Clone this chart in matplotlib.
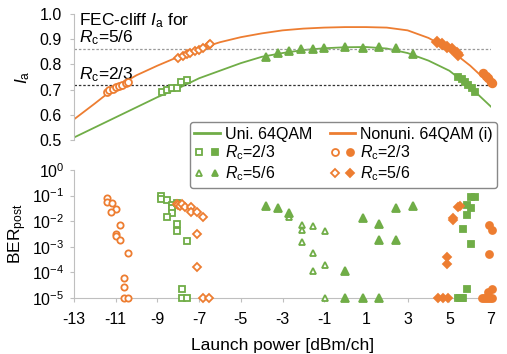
import numpy as np
import matplotlib
matplotlib.use("Agg")
import matplotlib.pyplot as plt
from matplotlib.lines import Line2D
from matplotlib.legend_handler import HandlerTuple

plt.rcParams["font.family"] = ["Liberation Sans", "DejaVu Sans"]
plt.rcParams["mathtext.fontset"] = "custom"
plt.rcParams["mathtext.rm"] = "Liberation Sans"
plt.rcParams["mathtext.it"] = "Liberation Sans:italic"
plt.rcParams["font.size"] = 11

GREEN = "#70AD47"
ORANGE = "#ED7D31"
GRAY = "#BFBFBF"

# --- кривые I_a ---
p_curve = [-13, -12, -11, -10, -9, -8, -7, -6, -5, -4, -3, -2, -1, 0, 1, 2, 3, 4, 5, 6, 7]
ia_uni = [0.51, 0.55, 0.59, 0.63, 0.67, 0.705, 0.745, 0.775, 0.805, 0.83, 0.845,
          0.857, 0.864, 0.868, 0.869, 0.863, 0.845, 0.815, 0.775, 0.71, 0.632]
ia_nonuni = [0.582, 0.645, 0.71, 0.757, 0.795, 0.83, 0.862, 0.888, 0.908, 0.923, 0.935,
             0.942, 0.946, 0.948, 0.948, 0.946, 0.935, 0.905, 0.86, 0.795, 0.718]

# --- точки I_a (верхняя панель) ---
top_u23o_p = [-8.8, -8.55, -8.3, -8.07, -7.85, -7.6]
top_u23o_ia = [0.692, 0.70, 0.708, 0.705, 0.73, 0.737]
top_u23f_p = [5.43, 5.59, 5.75, 5.91, 6.07, 6.23]
top_u23f_ia = [0.751, 0.741, 0.731, 0.718, 0.705, 0.692]
top_u56f_p = [-3.79, -3.23, -2.67, -2.11, -1.55, -0.99, 0.0, 0.85, 1.64, 2.44, 3.24]
top_u56f_ia = [0.831, 0.844, 0.854, 0.861, 0.861, 0.864, 0.868, 0.866, 0.868, 0.864, 0.84]
top_n23o_p = [-11.43, -11.3, -11.15, -11.0, -10.85, -10.7, -10.5, -10.4]
top_n23o_ia = [0.692, 0.697, 0.703, 0.71, 0.715, 0.72, 0.728, 0.732]
top_n23f_p = [6.63, 6.76, 6.87, 6.99, 7.03]
top_n23f_ia = [0.765, 0.754, 0.745, 0.731, 0.725]
top_n56o_p = [-8.0, -7.79, -7.6, -7.42, -7.2, -7.0, -6.8, -6.55, -6.48]
top_n56o_ia = [0.824, 0.833, 0.841, 0.846, 0.854, 0.859, 0.866, 0.876, 0.879]
top_n56f_p = [4.40, 4.64, 4.88, 5.12, 5.36, 5.43]
top_n56f_ia = [0.890, 0.881, 0.870, 0.860, 0.844, 0.837]

# --- BER (нижняя панель) ---
ber_u23o_p = [-8.81, -8.81, -8.55, -8.31, -8.31, -8.31, -8.55, -8.07, -8.07, -8.07, -7.60, -7.84, -7.84, -7.60]
ber_u23o = [0.095, 0.071, 0.069, 0.043, 0.032, 0.021, 0.014, 0.052, 0.0078, 0.0043, 0.0017, 2.3e-5, 1e-5, 1e-5]
ber_u23f_p = [6.04, 6.23, 5.83, 6.04, 5.83, 5.64, 6.04, 5.83, 5.40, 5.50, 5.60, 5.67]
ber_u23f = [0.085, 0.085, 0.043, 0.033, 0.017, 0.0051, 0.0013, 2.3e-5, 1e-5, 1e-5, 1e-5, 1e-5]
ber_u56o_p = [-2.67, -2.08, -2.08, -1.52, -0.96, -2.08, -1.52, -1.52, -0.96, -0.96]
ber_u56o = [0.015, 0.0071, 0.0045, 0.0065, 0.0042, 0.0015, 0.00055, 0.00011, 0.0002, 1e-5]
ber_u56f_p = [-3.79, -3.23, -2.67, 0.0, 0.0, 0.85, 1.64, 1.64, 2.44, 2.44, 3.24, 0.85, 1.64]
ber_u56f = [0.040, 0.033, 0.021, 1.1e-4, 1e-5, 0.013, 0.0078, 0.0018, 0.0018, 0.032, 0.039, 1e-5, 1e-5]
ber_n23o_p = [-11.43, -11.40, -11.19, -11.0, -11.21, -10.79, -11.0, -10.99, -10.79, -10.40, -10.60, -10.60, -10.60, -10.40]
ber_n23o = [0.078, 0.058, 0.049, 0.029, 0.022, 0.0069, 0.0031, 0.0026, 0.0019, 0.00059, 6.2e-5, 2.6e-5, 1e-5, 1e-5]
ber_n23f_p = [6.92, 7.03, 6.92, 7.03, 6.87, 6.55, 6.65, 6.75, 6.85, 6.95, 7.03]
ber_n23f = [0.0074, 0.0045, 0.00052, 2.3e-5, 1.8e-5, 1e-5, 1e-5, 1e-5, 1e-5, 1e-5, 1e-5]
ber_n56o_p = [-8.05, -8.0, -7.9, -7.8, -7.68, -7.40, -7.40, -7.12, -6.80, -7.12, -7.12, -6.80, -6.51]
ber_n56o = [0.047, 0.042, 0.038, 0.045, 0.036, 0.036, 0.022, 0.023, 0.014, 0.0032, 0.00016, 1e-5, 1e-5]
ber_n56f_p = [5.43, 5.50, 5.19, 5.19, 4.90, 4.90, 4.45, 4.68, 4.92]
ber_n56f = [0.035, 0.040, 0.0135, 0.011, 0.00039, 0.00021, 1e-5, 1e-5, 1e-5]

xticks = list(range(-13, 8, 2))

fig = plt.figure(figsize=(5.07, 3.54), dpi=100)
ax1 = fig.add_axes([0.146, 0.6045, 0.8225, 0.356])
ax2 = fig.add_axes([0.146, 0.158, 0.8225, 0.362])


def mk(ax, x, y, marker, color, filled, ms=5):
    ax.plot(x, y, linestyle="none", marker=marker, ms=ms,
            mfc=color if filled else "white", mec=color, mew=1.3, clip_on=False, zorder=4)


# верхняя панель
ax1.plot(p_curve, ia_uni, color=GREEN, lw=1.3)
ax1.plot(p_curve, ia_nonuni, color=ORANGE, lw=1.3)
ax1.axhline(0.86, color="#999999", ls=(0, (2, 1.5)), lw=0.9)
ax1.axhline(0.72, color="#333333", ls=(0, (2, 1.5)), lw=0.9)
mk(ax1, top_u23o_p, top_u23o_ia, "s", GREEN, False)
mk(ax1, top_u23f_p, top_u23f_ia, "s", GREEN, True)
mk(ax1, top_u56f_p, top_u56f_ia, "^", GREEN, True, 5.5)
mk(ax1, top_n23o_p, top_n23o_ia, "o", ORANGE, False)
mk(ax1, top_n23f_p, top_n23f_ia, "o", ORANGE, True, 5.5)
mk(ax1, top_n56o_p, top_n56o_ia, "D", ORANGE, False, 4.5)
mk(ax1, top_n56f_p, top_n56f_ia, "D", ORANGE, True, 5)
ax1.set_xlim(-13, 7)
ax1.set_ylim(0.5, 1.0)
ax1.set_yticks([0.5, 0.6, 0.7, 0.8, 0.9, 1.0])
ax1.set_yticklabels(["0.5", "0.6", "0.7", "0.8", "0.9", "1.0"])
ax1.set_xticks([])
ax1.set_ylabel("$I_\\mathrm{a}$", labelpad=5, fontsize=12.5)
ax1.text(-12.75, 0.956, "FEC-cliff $I_\\mathrm{a}$ for", va="baseline", ha="left", fontsize=12.5)
ax1.text(-12.75, 0.886, "$R_\\mathrm{c}$=5/6", va="baseline", ha="left", fontsize=12.5)
ax1.text(-12.75, 0.740, "$R_\\mathrm{c}$=2/3", va="baseline", ha="left", fontsize=12.5)

# нижняя панель
mk(ax2, ber_u23o_p, ber_u23o, "s", GREEN, False, 4.5)
mk(ax2, ber_u23f_p, ber_u23f, "s", GREEN, True, 4.5)
mk(ax2, ber_u56o_p, ber_u56o, "^", GREEN, False, 5)
mk(ax2, ber_u56f_p, ber_u56f, "^", GREEN, True, 5.5)
mk(ax2, ber_n23o_p, ber_n23o, "o", ORANGE, False, 4.5)
mk(ax2, ber_n23f_p, ber_n23f, "o", ORANGE, True, 5)
mk(ax2, ber_n56o_p, ber_n56o, "D", ORANGE, False, 4)
mk(ax2, ber_n56f_p, ber_n56f, "D", ORANGE, True, 4.5)
ax2.set_yscale("log")
ax2.set_ylim(1e-5, 1)
ax2.set_yticks([1e-5, 1e-4, 1e-3, 1e-2, 1e-1, 1])
ax2.minorticks_off()
ax2.set_xlim(-13, 7)
ax2.set_xticks(xticks)
ax2.set_xticklabels([str(t) for t in xticks])
ax2.set_ylabel("BER$_\\mathrm{post}$", labelpad=2, fontsize=12.5)
ax2.set_xlabel("Launch power [dBm/ch]", labelpad=8, fontsize=12.5)

for ax in (ax1, ax2):
    ax.spines["top"].set_visible(False)
    ax.spines["right"].set_visible(False)
    ax.spines["left"].set_color(GRAY)
    ax.spines["bottom"].set_color(GRAY)
    ax.tick_params(colors=GRAY, labelcolor="black", length=3, labelsize=11.5)
ax1.tick_params(axis="y", pad=6)
ax2.tick_params(axis="y", pad=4)
ax2.tick_params(axis="x", pad=7)
ax1.spines["bottom"].set_visible(False)

# легенда
h_uni = Line2D([], [], color=GREEN, lw=2)
h_nu = Line2D([], [], color=ORANGE, lw=2)


def pair(marker, color, ms=5):
    a = Line2D([], [], ls="none", marker=marker, ms=ms, mfc="white", mec=color, mew=1.3)
    b = Line2D([], [], ls="none", marker=marker, ms=ms, mfc=color, mec=color, mew=1.3)
    return (a, b)


handles = [h_uni, pair("s", GREEN), pair("^", GREEN), h_nu, pair("o", ORANGE), pair("D", ORANGE, 4.5)]
labels = ["Uni. 64QAM", "$R_\\mathrm{c}$=2/3", "$R_\\mathrm{c}$=5/6",
          "Nonuni. 64QAM (i)", "$R_\\mathrm{c}$=2/3", "$R_\\mathrm{c}$=5/6"]
leg = fig.legend(handles, labels, ncol=2, loc="upper right",
                 bbox_to_anchor=(0.997, 1 - 114 / 354),
                 handler_map={tuple: HandlerTuple(ndivide=None, pad=0.4)},
                 handlelength=1.6, handletextpad=0.3, columnspacing=1.1,
                 labelspacing=0.12, borderpad=0.3, fancybox=True,
                 framealpha=1, edgecolor="#888888", fontsize=11.5)
leg.get_frame().set_linewidth(1.0)

plt.savefig("out.png", dpi=100)
